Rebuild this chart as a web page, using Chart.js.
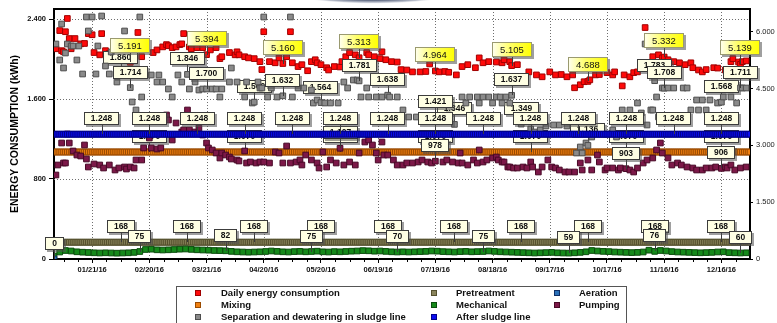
<!DOCTYPE html>
<html>
<head>
<meta charset="utf-8">
<script src="https://cdn.jsdelivr.net/npm/chart.js@4.4.1/dist/chart.umd.min.js"></script>
<style>
  html, body { margin: 0; padding: 0; background: #ffffff; }
  #wrap { position: relative; width: 777px; height: 323px; overflow: hidden; }
  canvas { display: block; }
</style>
</head>
<body>
<div id="wrap"><canvas id="energyChart" width="777" height="323"></canvas></div>
<script>
// ---- axis ticks (x values are day offsets from 01/01/16) ----
const tickDays   = [20, 50, 80, 110, 140, 170, 200, 230, 260, 290, 320, 350];
const tickLabels = ['01/21/16', '02/20/16', '03/21/16', '04/20/16', '05/20/16', '06/19/16',
                    '07/19/16', '08/18/16', '09/17/16', '10/17/16', '11/16/16', '12/16/16'];
const leftTicks       = [0, 800, 1600, 2400];
const leftTickLabels  = ['0', '800', '1.600', '2.400'];
const rightTicks      = [0, 1500, 3000, 4500, 6000];
const rightTickLabels = ['0', '1.500', '3.000', '4.500', '6.000'];

// ---- Daily energy consumption (kWh, right axis) ----
const dailyDays = [1,3,4,5,6,7,8,9,11,14,16,18,20,21,24,25,27,29,32,35,38,40,44,46,52,54,57,59,60,62,
  64,66,67,68,71,72,75,78,80,82,85,87,88,92,95,96,97,100,102,105,108,109,110,113,116,118,120,122,124,125,
  128,130,133,135,137,138,140,143,144,147,150,151,153,155,158,160,164,165,168,171,172,174,177,180,182,185,188,192,195,197,
  200,202,205,207,211,214,217,221,223,225,228,232,235,236,239,240,243,249,253,256,260,263,266,269,272,273,276,278,280,281,
  284,286,290,293,294,298,299,302,304,306,308,310,311,314,317,319,320,322,325,328,331,334,335,338,340,342,346,348,352,355,
  356,359,360,361,363];
const dailyKwh = [5550,6030,5500,5470,6000,6350,5820,5550,5820,5680,5690,5950,5920,5450,5390,5950,5500,5430,5380,5340,
  5290,5191,5980,5340,5450,5520,5600,5660,5630,5580,5600,5660,5680,5950,5600,5550,5580,5580,5394,5520,
  5580,5290,5340,5450,5390,5470,5390,5340,5310,5290,5210,5000,6000,5210,5180,5310,5160,5340,6000,5180,
  5080,5130,4970,5210,5260,5180,5130,5050,4990,5080,5070,5210,5340,5450,5390,5313,5450,5390,5340,5290,
  5470,5260,5210,5200,5000,4990,4940,4940,4950,5150,4964,4940,4950,4930,4860,5080,5130,5050,5310,5180,
  5210,5200,5180,5260,5210,5105,5130,4940,4860,4810,4940,4860,4870,4810,4860,4520,4600,4680,4688,4730,
  4860,4870,4920,4860,4940,4570,4860,4810,4920,4940,5080,6110,5180,5340,5390,5310,5332,5260,5210,5180,
  5130,5180,5050,4990,4940,5000,5050,5040,4990,5210,5290,5200,5139,5210,5230];
const dailyLabelDays = [40, 80, 120, 160, 200, 240, 280, 320, 360];

// ---- Separation and dewatering in sludge line (kWh, left axis) ----
const separationDays = [1,3,4,5,6,7,9,10,12,13,15,17,18,20,22,23,25,27,29,30,33,35,37,40,41,43,45,46,51,54,
  55,57,60,62,65,67,70,71,74,76,78,80,83,85,87,88,92,93,96,100,101,104,105,107,108,109,110,112,114,117,
  120,124,125,128,131,135,136,138,140,142,145,149,152,154,157,159,160,161,164,165,169,172,175,176,180,183,186,190,193,197,
  200,204,207,210,214,216,218,222,223,225,228,230,232,234,235,237,239,240,245,250,252,255,258,262,265,269,274,276,277,279,
  280,282,290,293,295,298,302,306,308,310,311,313,314,315,316,317,319,320,322,325,330,332,334,337,338,340,342,344,348,350,
  351,355,358,360,361,363];
const separationKwh = [2150,1990,2350,1910,2060,2150,2130,2130,1990,2130,1850,2420,2280,2420,1850,2130,2430,1930,1850,2070,
  1770,1860,2280,1714,1570,1490,2420,1620,1840,1770,1840,1770,1700,1620,1840,1770,1846,1700,1770,1690,
  1700,1700,1700,1700,1620,1700,1770,1910,1770,1620,1770,1560,1569,1770,1710,1710,2420,1620,1710,1620,
  1632,2420,1620,1710,1710,1690,1560,1590,1564,1560,1560,1560,1770,1710,1790,1790,1781,1620,1710,1620,
  1620,1620,1638,1620,1620,1490,1420,1420,1420,1420,1421,1420,1440,1346,1620,1560,1620,1620,1560,1620,
  1620,1560,1620,1620,1560,1620,1560,1637,1349,1300,1270,1290,1330,1340,1340,1330,1060,1120,1060,1160,
  1136,1220,1250,1290,1220,1490,1490,1560,1460,2150,1340,1490,1490,1783,1620,1420,1710,1708,1710,1710,
  1710,1710,1490,1590,1490,1590,1490,1590,1560,1568,1620,1620,1560,1711,1710,1710];
const separationLowLabelDays  = [35, 70, 105, 140, 175, 210, 245, 280, 315, 350];
const separationHighLabelDays = [40, 80, 120, 160, 200, 240, 320, 360];

// ---- Pumping (kWh, left axis) ----
const pumpingDays = [1,2,4,5,6,7,8,10,12,14,16,17,18,21,24,26,29,32,34,37,38,40,42,43,46,47,50,51,54,56,
  59,60,62,64,67,68,70,71,74,76,78,80,81,83,85,87,88,90,92,93,96,97,100,101,103,106,108,110,113,116,
  118,120,122,124,127,129,130,132,135,138,139,141,143,145,148,150,152,155,158,160,163,165,167,169,170,172,173,175,178,180,
  183,185,188,191,193,196,198,200,204,206,209,212,213,214,217,220,222,223,225,227,230,232,233,235,236,238,239,241,243,246,
  248,250,251,254,256,259,261,263,265,268,270,273,276,277,280,282,285,286,289,290,293,296,297,300,302,304,306,309,311,314,
  316,318,319,322,324,327,329,332,335,337,340,342,345,347,350,352,353,355,357,360,363];
const pumpingKwh = [840,940,1160,960,960,1250,1160,1080,1040,1030,1140,1000,920,950,940,910,940,890,910,920,
  900,920,910,990,990,1110,1210,1110,1100,1110,1440,1390,1190,1360,1270,1290,1490,1290,1270,1310,
  1240,1160,1110,1090,1060,1010,1060,1040,1020,1000,990,980,1080,960,970,960,970,970,960,1070,
  1060,960,1130,960,970,990,940,1040,990,960,910,1070,920,990,960,1107,940,970,940,1060,
  1170,1190,1140,1060,990,1170,1040,1040,990,940,940,960,960,970,990,970,960,978,970,990,
  970,960,1060,960,940,990,960,1090,970,990,1010,1020,990,970,970,920,920,910,910,920,
  910,970,920,870,920,990,920,910,890,870,870,870,960,890,990,890,1040,970,890,910,
  910,890,910,903,890,870,910,960,990,1010,1090,1160,1060,1010,940,960,940,920,910,890,
  890,910,910,920,906,920,910,940,890,910,920];
const pumpingLabelDays = [150, 200, 300, 350];

// ---- Mechanical (kWh, left axis) ----
const mechanicalDays = [0,3,6,9,12,15,18,21,24,27,30,33,36,39,42,45,48,51,54,57,60,63,66,69,72,75,78,81,84,87,
  90,93,96,99,102,105,108,111,114,117,120,123,126,129,132,135,138,141,144,147,150,153,156,159,162,165,168,171,174,177,
  180,183,186,189,192,195,198,201,204,207,210,213,216,219,222,225,228,231,234,237,240,243,246,249,252,255,258,261,264,267,
  270,273,276,279,282,285,288,291,294,297,300,303,306,309,312,315,318,321,324,327,330,333,336,339,342,345,348,351,354,357,
  360,363];
const mechanicalKwh = [30,70,85,80,72,68,65,62,60,62,60,58,60,62,66,75,95,98,92,90,92,95,98,100,96,92,90,88,85,84,
  82,76,72,70,68,70,72,75,80,76,72,70,74,76,72,75,78,72,70,74,72,75,78,80,84,82,78,80,76,72,
  70,72,70,72,74,76,80,78,74,72,70,74,76,72,74,75,80,76,72,70,68,66,64,62,60,62,64,66,62,60,
  59,62,66,72,85,80,76,74,70,68,66,64,66,70,88,76,85,80,74,70,68,66,64,62,64,66,70,72,64,62,
  60,62];
const mechanicalLabelDays = [45, 90, 135, 180, 225, 270, 315, 360];

// ---- steady loads (kWh, left axis) ----
const mixingKwh        = 1070;
const afterSludgeKwh   = 1248;
const pretreatmentKwh  = 168;
const mixingLabelDays       = [50, 100, 150, 200, 250, 300, 350];
const afterSludgeLabelDays  = [25, 50, 75, 100, 125, 150, 175, 200, 225, 250, 275, 300, 325, 350];
const pretreatmentLabelDays = [35, 70, 105, 140, 175, 210, 245, 280, 315, 350];

// ---- Aeration (kWh, left axis) ----
const aerationDays = [0];
const aerationKwh  = [0];
const aerationLabelDays = [0];

// every calendar day of 2016 as an offset from 01/01/16
const yearDays = [];
for (let d = 0; d <= 365; d++) yearDays.push(d);

const pairs = (days, vals) => days.map((d, i) => ({ x: d, y: vals[i] }));
const steady = (level) => yearDays.map(d => ({ x: d, y: level }));

const FONT = '"Liberation Sans", Arial, Helvetica, sans-serif';

function fmtKwh(v) {
  return String(Math.round(v)).replace(/\B(?=(\d{3})+(?!\d))/g, '.');
}

function series(key, label, data, axis, fill, edge, order) {
  return {
    key, label, data, yAxisID: axis, order,
    showLine: false,
    pointStyle: 'rect',
    pointRadius: 4,
    pointHoverRadius: 4,
    pointBorderWidth: 1,
    backgroundColor: fill, borderColor: edge,
    pointBackgroundColor: fill, pointBorderColor: edge
  };
}

// higher "order" is painted first
const datasets = [
  series('daily', 'Daily energy consumption', pairs(dailyDays, dailyKwh), 'yR', '#ff0a0a', '#a00000', 7),
  series('mixing', 'Mixing', steady(mixingKwh), 'yL', '#f08010', '#9a4a00', 9),
  series('separation', 'Separation and dewatering in sludge line', pairs(separationDays, separationKwh), 'yL', '#8a8a8a', '#4e4e4e', 6),
  series('pretreatment', 'Pretreatment', steady(pretreatmentKwh), 'yL', '#8a845c', '#55502e', 4),
  series('mechanical', 'Mechanical', pairs(mechanicalDays, mechanicalKwh), 'yL', '#15891a', '#0a4c0c', 3),
  series('afterSludge', 'After sludge line', steady(afterSludgeKwh), 'yL', '#0c0cf0', '#00008a', 5),
  series('aeration', 'Aeration', pairs(aerationDays, aerationKwh), 'yL', '#2a70b8', '#0e2e66', 2),
  series('pumping', 'Pumping', pairs(pumpingDays, pumpingKwh), 'yL', '#7c1848', '#480826', 8)
];

// which callouts go with which series, and when they are painted
const calloutSets = [
  { key: 'mixing',       days: mixingLabelDays,          after: 'mixing' },
  { key: 'pumping',      days: pumpingLabelDays,         after: 'pumping' },
  { key: 'separation',   days: separationLowLabelDays,   after: 'daily' },
  { key: 'pretreatment', days: pretreatmentLabelDays,    after: 'pretreatment' },
  { key: 'mechanical',   days: mechanicalLabelDays,      after: 'mechanical' },
  { key: 'aeration',     days: aerationLabelDays,        after: 'top' },
  { key: 'afterSludge',  days: afterSludgeLabelDays,     after: 'top' },
  { key: 'separation',   days: separationHighLabelDays,  after: 'top' },
  { key: 'daily',        days: dailyLabelDays,           after: 'top', yellow: true }
];

function drawCallout(ctx, px, py, text, yellow) {
  ctx.save();
  ctx.font = yellow ? ('9.5px ' + FONT) : ('bold 8.5px ' + FONT);
  const tw = ctx.measureText(text).width;
  const w = Math.round(tw + (yellow ? 16 : 14));
  const h = yellow ? 15 : 13;
  const bottom = Math.round(py - 9);
  const top = bottom - h;
  const left = Math.round(px - w / 2);
  const sx = Math.round(px) + 0.5;
  ctx.strokeStyle = '#3a3a3a';
  ctx.lineWidth = 1;
  ctx.beginPath();
  ctx.moveTo(sx, bottom);
  ctx.lineTo(sx, Math.round(py));
  ctx.stroke();
  ctx.fillStyle = 'rgba(80,80,80,0.55)';
  ctx.fillRect(left + 2, top + 2, w, h);
  if (yellow) {
    const g = ctx.createLinearGradient(left, 0, left + w, 0);
    g.addColorStop(0, '#fffff2');
    g.addColorStop(0.45, '#ffff66');
    g.addColorStop(1, '#ffff00');
    ctx.fillStyle = g;
  } else {
    ctx.fillStyle = '#ffffe4';
  }
  ctx.fillRect(left, top, w, h);
  ctx.strokeStyle = yellow ? '#9a9a70' : '#3c3c3c';
  ctx.strokeRect(left + 0.5, top + 0.5, w - 1, h - 1);
  ctx.fillStyle = '#111111';
  ctx.textAlign = 'center';
  ctx.textBaseline = 'middle';
  ctx.fillText(text, left + w / 2, top + h / 2 + 0.5);
  ctx.restore();
}

function drawCalloutGroup(chart, stage) {
  const ctx = chart.ctx;
  calloutSets.filter(s => s.after === stage).forEach(set => {
    const ds = chart.data.datasets.find(d => d.key === set.key);
    const xs = chart.scales.x;
    const ys = chart.scales[ds.yAxisID];
    set.days.forEach(day => {
      const pt = ds.data.find(p => p.x === day);
      if (!pt) return;
      drawCallout(ctx, xs.getPixelForValue(pt.x), ys.getPixelForValue(pt.y), fmtKwh(pt.y), !!set.yellow);
    });
  });
}

const calloutPlugin = {
  id: 'callouts',
  afterDatasetDraw(chart, args) {
    const key = chart.data.datasets[args.index].key;
    drawCalloutGroup(chart, key);
  },
  afterDatasetsDraw(chart) {
    drawCalloutGroup(chart, 'top');
  }
};

const framePlugin = {
  id: 'frame',
  beforeDraw(chart) {
    const ctx = chart.ctx;
    ctx.save();
    ctx.translate(373, -12);
    ctx.scale(1, 16 / 95);
    const g = ctx.createRadialGradient(0, 0, 0, 0, 0, 95);
    g.addColorStop(0, 'rgba(16,24,50,1)');
    g.addColorStop(0.72, 'rgba(40,52,84,0.95)');
    g.addColorStop(0.9, 'rgba(120,130,155,0.5)');
    g.addColorStop(1, 'rgba(255,255,255,0)');
    ctx.fillStyle = g;
    ctx.beginPath();
    ctx.arc(0, 0, 95, 0, Math.PI * 2);
    ctx.fill();
    ctx.restore();
  },
  beforeDatasetsDraw(chart) {
    const { ctx, chartArea: a, scales } = chart;
    ctx.save();
    ctx.strokeStyle = '#6e6e6e';
    ctx.lineWidth = 1;
    ctx.setLineDash([1, 2]);
    tickDays.forEach(d => {
      const x = Math.round(scales.x.getPixelForValue(d)) + 0.5;
      ctx.beginPath(); ctx.moveTo(x, a.top); ctx.lineTo(x, a.bottom); ctx.stroke();
    });
    leftTicks.filter(v => v > 0).forEach(v => {
      const y = Math.round(scales.yL.getPixelForValue(v)) + 0.5;
      ctx.beginPath(); ctx.moveTo(a.left, y); ctx.lineTo(a.right, y); ctx.stroke();
    });
    ctx.restore();
  },
  afterDraw(chart) {
    const { ctx, chartArea: a, scales } = chart;
    ctx.save();
    // top edge of the plot frame
    ctx.strokeStyle = '#000';
    ctx.lineWidth = 2;
    ctx.beginPath(); ctx.moveTo(a.left - 1, a.top); ctx.lineTo(a.right + 1, a.top); ctx.stroke();
    // minor ticks on the date axis
    ctx.lineWidth = 1;
    for (let d = 5; d < 365; d += 7.5) {
      if (tickDays.includes(d)) continue;
      const x = Math.round(scales.x.getPixelForValue(d)) + 0.5;
      ctx.beginPath(); ctx.moveTo(x, a.bottom); ctx.lineTo(x, a.bottom + 3); ctx.stroke();
    }
    ctx.restore();

    // legend, filled column by column
    ctx.save();
    ctx.strokeStyle = '#555';
    ctx.lineWidth = 1;
    ctx.strokeRect(176.5, 286.5, 450, 60);
    const colMarker = [198, 434, 557];
    const colText = [221, 456, 579];
    ctx.font = 'bold 9.5px ' + FONT;
    ctx.textBaseline = 'middle';
    ctx.textAlign = 'left';
    chart.data.datasets.forEach((ds, i) => {
      const col = Math.floor(i / 3), row = i % 3;
      const y = 293 + row * 12;
      ctx.fillStyle = ds.pointBackgroundColor;
      ctx.fillRect(colMarker[col] - 3, y - 3, 6, 6);
      ctx.strokeStyle = ds.pointBorderColor;
      ctx.strokeRect(colMarker[col] - 2.5, y - 2.5, 5, 5);
      ctx.fillStyle = '#111';
      ctx.fillText(ds.label, colText[col], y + 0.5);
    });
    ctx.restore();
  }
};

new Chart(document.getElementById('energyChart'), {
  type: 'scatter',
  data: { datasets },
  options: {
    responsive: false,
    animation: false,
    devicePixelRatio: 1,
    layout: { padding: { top: 9, left: 0, right: 0, bottom: 0 } },
    plugins: { legend: { display: false }, tooltip: { enabled: false } },
    scales: {
      x: {
        type: 'linear', position: 'bottom', min: 0, max: 365,
        afterBuildTicks: s => { s.ticks = tickDays.map(v => ({ value: v })); },
        afterFit: s => { s.height = 64; },
        ticks: {
          autoSkip: false, maxRotation: 0, padding: 2, color: '#111',
          font: { family: FONT, size: 7.5, weight: 'bold' },
          callback: v => tickLabels[tickDays.indexOf(v)]
        },
        grid: { display: true, drawOnChartArea: false, drawTicks: true, tickLength: 4, tickColor: '#000', tickWidth: 1 },
        border: { display: true, color: '#000', width: 2 }
      },
      yL: {
        type: 'linear', position: 'left', min: 0, max: 2500,
        afterBuildTicks: s => { s.ticks = leftTicks.map(v => ({ value: v })); },
        afterFit: s => { s.width = 54; },
        ticks: {
          padding: 3, color: '#111',
          font: { family: FONT, size: 7.5, weight: 'bold' },
          callback: v => leftTickLabels[leftTicks.indexOf(v)]
        },
        grid: { display: true, drawOnChartArea: false, drawTicks: true, tickLength: 5, tickColor: '#000', tickWidth: 1 },
        border: { display: true, color: '#000', width: 2 },
        title: {
          display: true, text: 'ENERGY CONSUMPTION (kWh)', color: '#000',
          font: { family: FONT, size: 10.5, weight: 'bold' },
          padding: { top: 9, bottom: 0 }
        }
      },
      yR: {
        type: 'linear', position: 'right', min: 0, max: 6600,
        afterBuildTicks: s => { s.ticks = rightTicks.map(v => ({ value: v })); },
        afterFit: s => { s.width = 27; },
        ticks: {
          padding: 3, color: '#222',
          font: { family: FONT, size: 7.5 },
          callback: v => rightTickLabels[rightTicks.indexOf(v)]
        },
        grid: { display: true, drawOnChartArea: false, drawTicks: true, tickLength: 3, tickColor: '#000', tickWidth: 1 },
        border: { display: true, color: '#000', width: 2 }
      }
    }
  },
  plugins: [calloutPlugin, framePlugin]
});
</script>
</body>
</html>
